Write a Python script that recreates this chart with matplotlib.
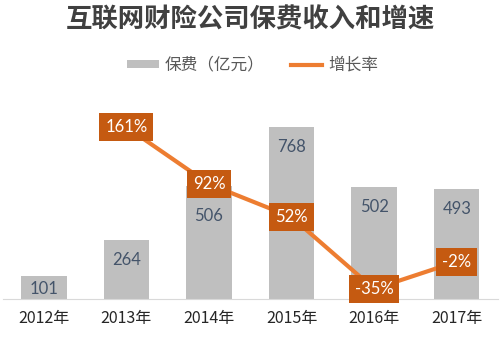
import numpy as np
import matplotlib.pyplot as plt
from matplotlib.patches import Patch
from matplotlib.lines import Line2D

plt.rcParams['font.family'] = ['Noto Sans CJK SC', 'DejaVu Sans']

# data
years = ['2012年', '2013年', '2014年', '2015年', '2016年', '2017年']
premium = [101, 264, 506, 768, 502, 493]  # 亿元
growth = [None, 161, 92, 52, -35, -2]  # %
growth_labels = ['', '161%', '92%', '52%', '-35%', '-2%']

bar_color = '#BFBFBF'
line_color = '#ED7D31'
box_color = '#C55A11'
label_color = '#44546A'

fig = plt.figure(figsize=(5, 3.39), dpi=100)
ax = fig.add_axes([0.005, 0.118, 0.991, 0.572])

x = np.arange(len(years))
ax.bar(x, premium, width=0.55, color=bar_color, zorder=1)

ax.set_xlim(-0.5, 5.5)
ax.set_ylim(0, 866)
ax.set_yticks([])
ax.set_xticks(x)
ax.set_xticklabels(years, fontsize=11.5, color='#262626')
ax.tick_params(axis='x', length=0, pad=8)
for s in ['top', 'right', 'left']:
    ax.spines[s].set_visible(False)
ax.spines['bottom'].set_color('#D9D9D9')

# growth rate on a second scale
ax2 = ax.twinx()
ax2.set_ylim(-47.2, 187.6)
ax2.set_yticks([])
for s in ax2.spines.values():
    s.set_visible(False)
gx = [xi for xi, g in zip(x, growth) if g is not None]
gy = [g for g in growth if g is not None]
ax2.plot(gx, gy, color=line_color, lw=3, zorder=3, solid_capstyle='butt')
for xi, g, lab in zip(x, growth, growth_labels):
    if g is None:
        continue
    ax2.text(xi, g, lab, ha='center', va='center', fontsize=12, color='white',
             family=['Lato', 'DejaVu Sans'], zorder=4,
             bbox=dict(boxstyle='square,pad=0.35', fc=box_color, ec='none'))

# value labels inside the bars, pushed below a growth box if they would collide
for xi, v, g in zip(x, premium, growth):
    y0 = ax.transData.transform((xi, 0))[1]
    y_lab = max(ax.transData.transform((xi, v))[1] - 20, y0 + 10)
    if g is not None:
        y_box = ax2.transData.transform((xi, g))[1]
        if abs(y_lab - y_box) < 22:
            y_lab = y_box - 32
    ax.annotate(str(v), xy=(xi, 0), xycoords='data',
                xytext=(0, y_lab - y0), textcoords='offset pixels',
                ha='center', va='center', fontsize=12, color=label_color,
                family=['Lato', 'DejaVu Sans'], zorder=2)

fig.text(0.5, 0.94, '互联网财险公司保费收入和增速', ha='center', va='center',
         fontsize=19, color='#404040', fontweight='bold')

handles = [Patch(facecolor=bar_color, edgecolor='none'),
           Line2D([0], [0], color=line_color, lw=3)]
fig.legend(handles, ['保费（亿元）', '增长率'], loc='center',
           bbox_to_anchor=(0.505, 0.808), ncol=2, frameon=False, fontsize=12,
           handlelength=1.9, handleheight=0.35, columnspacing=1.6,
           handletextpad=0.35, labelcolor='#595959')

fig.savefig('out.png', dpi=100)
